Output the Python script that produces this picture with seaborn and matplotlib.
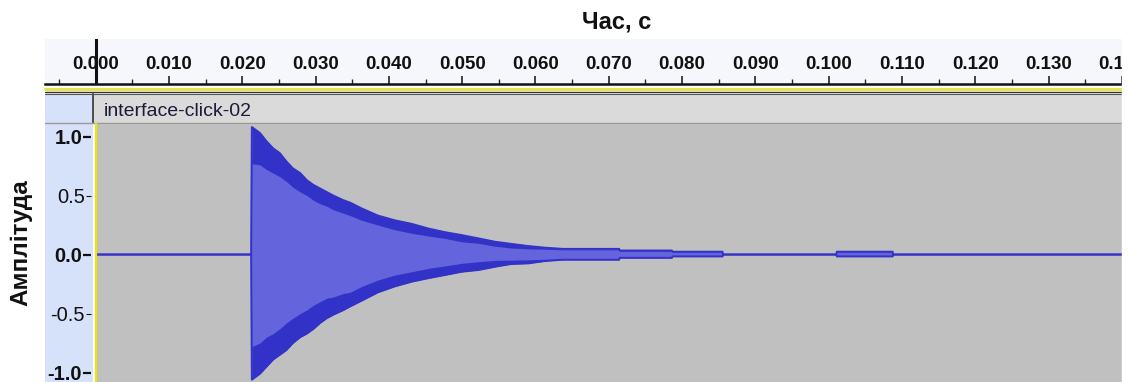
import pandas as pd
import seaborn as sns
import matplotlib.pyplot as plt
from matplotlib.lines import Line2D
from matplotlib.patches import Rectangle
from matplotlib.ticker import MultipleLocator, FormatStrFormatter

# Envelope of the click (time in seconds)
time_s = [0.0000, 0.0212, 0.0213, 0.0224, 0.0233, 0.0242, 0.0251, 0.0260, 0.0269,
          0.0279, 0.0288, 0.0297, 0.0306, 0.0315, 0.0324, 0.0338, 0.0347, 0.0363,
          0.0385, 0.0408, 0.0431, 0.0454, 0.0476, 0.0499, 0.0522, 0.0545, 0.0567,
          0.0590, 0.0613, 0.0637, 0.0714, 0.0715, 0.0786, 0.0787, 0.0855, 0.0856,
          0.1010, 0.1011, 0.1087, 0.1088, 0.1400]
peak_top = [0, 0, 1.08, 1.03, 0.96, 0.90, 0.86, 0.79, 0.73,
            0.69, 0.63, 0.59, 0.56, 0.53, 0.50, 0.46, 0.44, 0.39,
            0.33, 0.29, 0.26, 0.22, 0.19, 0.165, 0.137, 0.108, 0.090,
            0.072, 0.058, 0.048, 0.048, 0.034, 0.034, 0.024, 0.024, 0,
            0, 0.024, 0.024, 0, 0]
peak_bottom = [0, 0, -1.06, -1.01, -0.95, -0.89, -0.85, -0.81, -0.75,
               -0.70, -0.67, -0.63, -0.58, -0.54, -0.51, -0.47, -0.44, -0.39,
               -0.32, -0.27, -0.23, -0.20, -0.174, -0.146, -0.131, -0.103, -0.080,
               -0.075, -0.055, -0.044, -0.044, -0.028, -0.028, -0.016, -0.016, 0,
               0, -0.016, -0.016, 0, 0]
rms_top = [0, 0, 0.77, 0.76, 0.72, 0.69, 0.66, 0.62, 0.57,
           0.53, 0.50, 0.46, 0.43, 0.41, 0.38, 0.35, 0.33, 0.29,
           0.25, 0.21, 0.18, 0.157, 0.137, 0.108, 0.095, 0.070, 0.055,
           0.048, 0.045, 0.040, 0.040, 0.028, 0.028, 0.018, 0.018, 0,
           0, 0.018, 0.018, 0, 0]
rms_bottom = [0, 0, -0.78, -0.75, -0.70, -0.67, -0.63, -0.58, -0.54,
              -0.50, -0.47, -0.43, -0.40, -0.37, -0.36, -0.33, -0.32, -0.27,
              -0.216, -0.174, -0.146, -0.117, -0.097, -0.075, -0.061, -0.050, -0.048,
              -0.045, -0.040, -0.036, -0.036, -0.022, -0.022, -0.010, -0.010, 0,
              0, -0.010, -0.010, 0, 0]

amp_major = [-1.0, 0.0, 1.0]
amp_minor = [-0.5, 0.5]
track_name = "interface-click-02"
x_title = "Час, с"
y_title = "Амплітуда"

dark_blue = "#3232c8"
light_blue = "#6464dc"

sns.set_theme(style="ticks")
plt.rcParams["font.family"] = ["Liberation Sans", "DejaVu Sans"]

W, H = 1128, 382
fig = plt.figure(figsize=(W / 100, H / 100), dpi=100)


def box(x0, y0, x1, y1):
    # pixel box (top-down) -> figure fractions
    return [x0 / W, 1 - y1 / H, (x1 - x0) / W, (y1 - y0) / H]


# --- time ruler ---
ax_ruler = fig.add_axes(box(45, 39, 1122, 84))
ax_ruler.set_facecolor("#f5f7fc")
ax_ruler.set_xlim(-0.0069, 0.14)
ax_ruler.set_ylim(0, 1)
ax_ruler.set_yticks([])
for side in ["top", "left", "right"]:
    ax_ruler.spines[side].set_visible(False)
ax_ruler.spines["bottom"].set_color("#111111")
ax_ruler.spines["bottom"].set_linewidth(1.8)
ax_ruler.xaxis.set_major_locator(MultipleLocator(0.01))
ax_ruler.xaxis.set_minor_locator(MultipleLocator(0.005))
ax_ruler.xaxis.set_major_formatter(FormatStrFormatter("%.3f"))
ax_ruler.tick_params(axis="x", which="major", bottom=True, direction="in", length=6,
                     width=1.2, color="#222222", pad=-20.5, labelsize=13.5, labelcolor="#111111")
ax_ruler.tick_params(axis="x", which="minor", bottom=True, direction="in", length=3.5,
                     width=1.0, color="#222222")
plt.setp(ax_ruler.get_xticklabels(), fontweight="bold")
ax_ruler.axvline(0, ymin=0.05, ymax=1, color="#111111", lw=2.2)

fig.text(617 / W, 1 - 22 / H, x_title, ha="center", va="center",
         fontsize=17, fontweight="bold", color="#111111")

# lines under the ruler
for y, col, lw in [(88.5, "#e3e34a", 2.2), (91.5, "#333333", 1.0), (93.5, "#555555", 0.8)]:
    fig.add_artist(Line2D([45 / W, 1122 / W], [1 - y / H] * 2, color=col, lw=lw))

# --- left panel (light blue) ---
ax_panel = fig.add_axes(box(45, 94, 93, 382))
ax_panel.set_facecolor("#d6e2f9")
ax_panel.set_xticks([])
ax_panel.set_yticks([])
for sp in ax_panel.spines.values():
    sp.set_visible(False)

# --- track header ---
ax_head = fig.add_axes(box(93, 94, 1122, 122.5))
ax_head.set_facecolor("#dadada")
ax_head.set_xticks([])
ax_head.set_yticks([])
for side in ["top", "right"]:
    ax_head.spines[side].set_visible(False)
ax_head.spines["left"].set_color("#333333")
ax_head.spines["left"].set_linewidth(1.2)
ax_head.spines["bottom"].set_color("#9a9a9a")
ax_head.spines["bottom"].set_linewidth(1.0)
ax_head.text(11 / 1029, 0.40, track_name, transform=ax_head.transAxes,
             ha="left", va="center", fontsize=14, color="#1c1c3a")
fig.add_artist(Line2D([45 / W, 93 / W], [1 - 122.5 / H] * 2, color="#9a9a9a", lw=1.0))

# --- waveform ---
ax_wave = fig.add_axes(box(95.7, 124, 1122, 382))
ax_wave.set_facecolor("#c0c0c0")
ax_wave.fill_between(time_s, peak_bottom, peak_top, color=dark_blue, lw=0)
ax_wave.fill_between(time_s, rms_bottom, rms_top, color=light_blue, lw=0)
n = len(time_s)
edges = pd.DataFrame({
    "t": time_s * 2,
    "amp": peak_top + peak_bottom,
    "edge": ["top"] * n + ["bottom"] * n,
})
sns.lineplot(data=edges, x="t", y="amp", units="edge", estimator=None, sort=False,
             color=dark_blue, lw=1.4, ax=ax_wave)
ax_wave.set_xlim(0, 0.14)
ax_wave.set_ylim(-1.08, 1.106)
ax_wave.set_xticks([])
ax_wave.set_yticks([])
ax_wave.set_xlabel("")
ax_wave.set_ylabel("")
for side in ["top", "right", "bottom"]:
    ax_wave.spines[side].set_visible(False)
ax_wave.spines["left"].set_color("#e8e800")
ax_wave.spines["left"].set_linewidth(1.6)

# --- amplitude labels ---
ax_lab = fig.add_axes(box(91, 124, 93, 382))
ax_lab.set_facecolor("none")
ax_lab.set_ylim(-1.08, 1.106)
ax_lab.set_xticks([])
for sp in ax_lab.spines.values():
    sp.set_visible(False)
ax_lab.set_yticks(amp_major, labels=[f"{v:.1f}" for v in amp_major])
ax_lab.set_yticks(amp_minor, labels=[f"{v:.1f}" for v in amp_minor], minor=True)
ax_lab.tick_params(axis="y", which="major", left=True, direction="out", length=5.5,
                   width=1.6, color="#111111", pad=0.8, labelsize=14.5, labelcolor="#111111")
ax_lab.tick_params(axis="y", which="minor", left=True, direction="out", length=3.6,
                   width=0.8, color="#111111", pad=0.8, labelsize=14.5, labelcolor="#111111")
plt.setp(ax_lab.get_yticklabels(), fontweight="bold")
ax_lab.set_ylabel(y_title, fontsize=17.5, fontweight="bold", color="#111111")
ax_lab.yaxis.set_label_coords(32 / W, 1 - 243 / H, transform=fig.transFigure)

# image is cut at the right edge
fig.add_artist(Rectangle((1122 / W, 0), 6 / W, 1, transform=fig.transFigure,
                         color="white", zorder=10))

plt.savefig("out.png", dpi=100, facecolor="white")
